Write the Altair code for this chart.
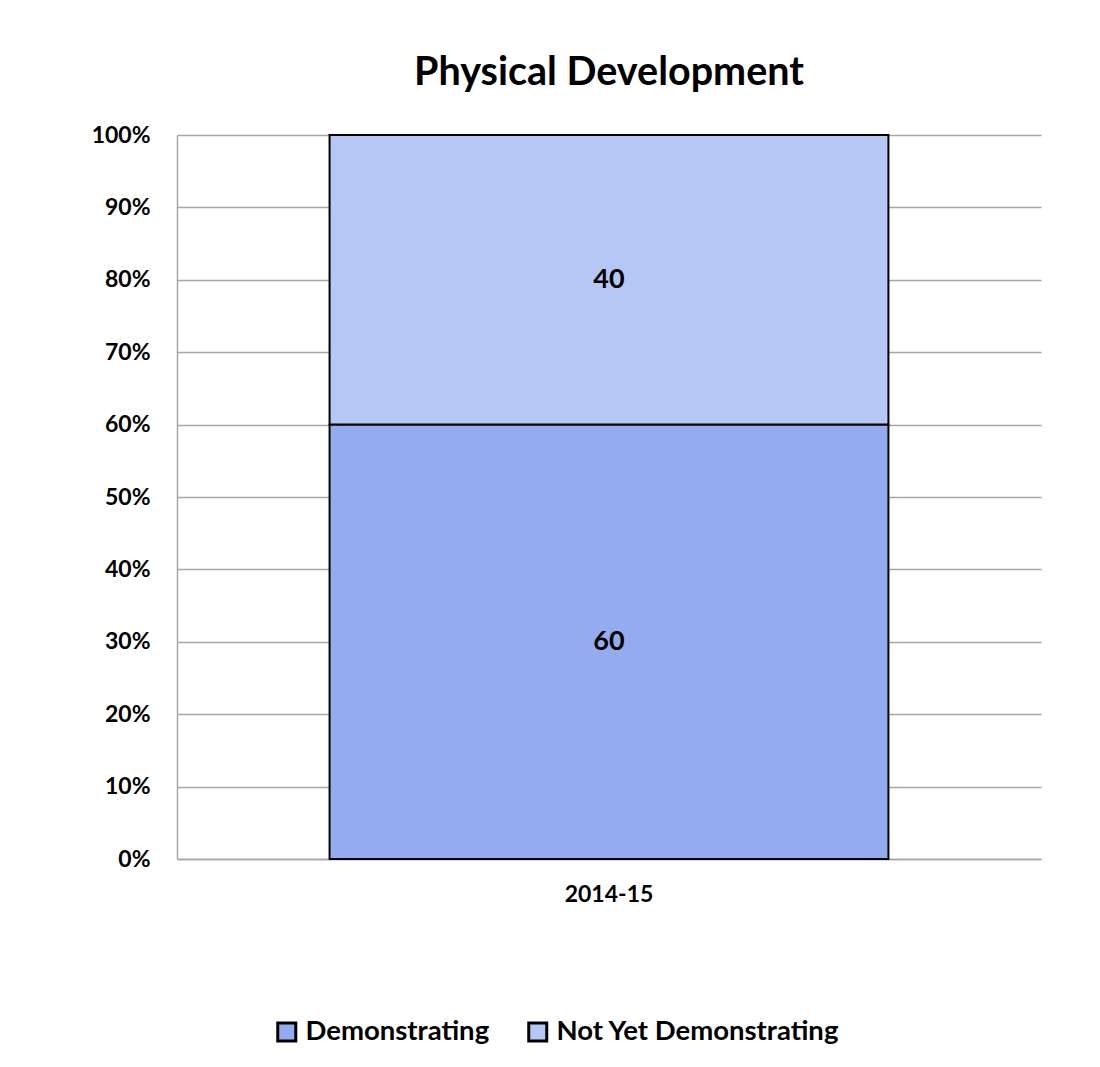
import altair as alt
import pandas as pd

years = ["2014-15", "2014-15"]
statuses = ["Demonstrating", "Not Yet Demonstrating"]
values = [60, 40]
order = [0, 1]
colors = ["#93ACEF", "#B5C7F4"]

df = pd.DataFrame({"year": years, "status": statuses, "value": values, "ord": order})

FONT = "Lato"

base = alt.Chart(df).transform_calculate(
    frac="datum.value / 100"
).transform_stack(
    stack="frac", groupby=["year"], as_=["y0", "y1"], sort=[alt.SortField("ord", order="ascending")]
).transform_calculate(
    ymid="(datum.y0 + datum.y1) / 2"
)

xenc = alt.X(
    "year:N",
    title=None,
    scale=alt.Scale(paddingInner=0, paddingOuter=0.273),
    axis=alt.Axis(labelAngle=0, ticks=False, labelFont=FONT, labelFontSize=23,
                  labelFontWeight="bold", labelColor="black", labelPadding=24,
                  domainColor="#A6A6A6", domainWidth=1.5),
)

bars = base.mark_bar(stroke="black", strokeWidth=2).encode(
    x=xenc,
    y=alt.Y("y0:Q", title=None, scale=alt.Scale(domain=[0, 1]),
            axis=alt.Axis(format=".0%", values=[i / 10 for i in range(11)], ticks=False,
                          labelFont=FONT, labelFontSize=23, labelFontWeight="bold",
                          labelColor="black", labelPadding=27, grid=True,
                          gridColor="#A6A6A6", gridWidth=1.5,
                          domainColor="#A6A6A6", domainWidth=1.5)),
    y2="y1:Q",
    color=alt.Color("status:N", scale=alt.Scale(domain=statuses, range=colors),
                    legend=alt.Legend(title=None, orient="none", direction="horizontal",
                                      legendX=96, legendY=883, labelLimit=0,
                                      labelFont=FONT, labelFontSize=27.5, labelFontWeight="bold",
                                      labelColor="black", symbolType="square", symbolSize=324,
                                      symbolStrokeColor="black", symbolStrokeWidth=3,
                                      symbolOpacity=1, columnPadding=32, labelOffset=5)),
)

labels = base.mark_text(font=FONT, fontSize=27, fontWeight="bold", color="black").encode(
    x=alt.X("year:N"),
    y=alt.Y("ymid:Q"),
    text=alt.Text("value:Q"),
)

chart = alt.layer(bars, labels).properties(
    width=864,
    height=724,
    title=alt.Title("Physical Development", font=FONT, fontSize=39.5, fontWeight="bold",
                    color="black", offset=31, anchor="middle"),
    padding={"left": 83, "top": 44, "right": 50, "bottom": 10},
).configure_view(stroke=None).configure_axis(domain=True)

chart.save("out.html", embed_options={"renderer": "svg", "actions": False})
